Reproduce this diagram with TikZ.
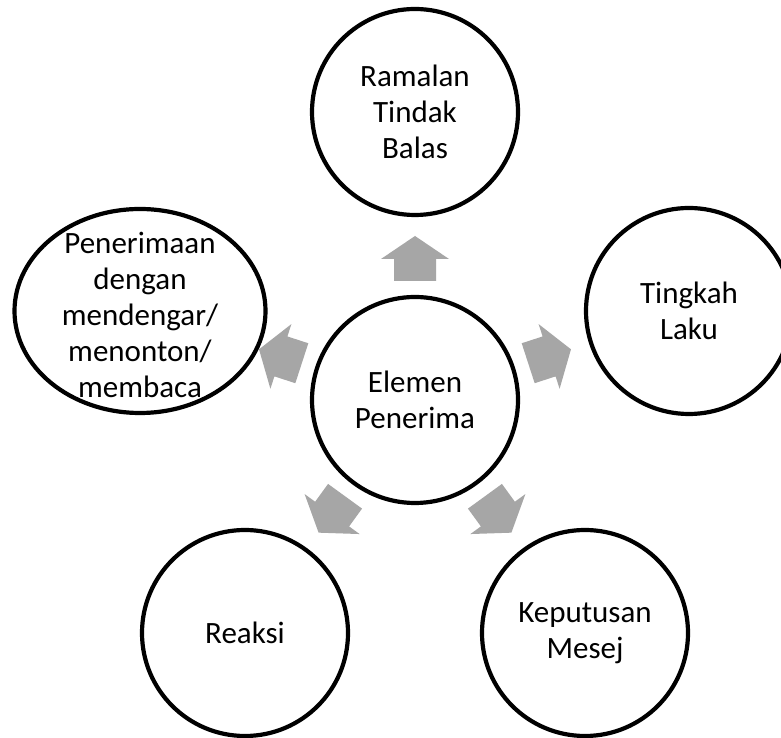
\documentclass[tikz,border=0pt]{standalone}
\usepackage{fontspec}
\setmainfont{Carlito}
\usetikzlibrary{shapes.geometric}
\definecolor{arrowgray}{RGB}{166,166,166}
\tikzset{
  bubble/.style={circle, draw=black, fill=white, line width=4.2pt, minimum size=206pt, inner sep=0pt},
  ovalbox/.style={ellipse, draw=black, fill=white, line width=4.2pt, minimum width=251pt, minimum height=204pt, inner sep=0pt},
  txt/.style={align=center, inner sep=0pt, font=\fontsize{31}{36}\selectfont},
  blockarrow/.style={fill=arrowgray, draw=none}
}
\begin{document}
\begin{tikzpicture}[x=1pt,y=1pt]
\clip (0,0) rectangle (781,738);
\fill[white] (0,0) rectangle (781,738);
\coordinate (c) at (415,338);
% arrows
\foreach \a in {90,18,162,-54,-126}{
  \begin{scope}[shift={(c)}, rotate=\a]
    \fill[blockarrow] (119,-21) -- (141,-21) -- (141,-34) -- (164,0) -- (141,34) -- (141,21) -- (119,21) -- cycle;
  \end{scope}
}
% center
\node[bubble, txt] (center) at (c) {Elemen\\Penerima};
% outer
\node[bubble, txt] (ramalan) at (415,626) {Ramalan\\Tindak\\Balas};
\node[bubble, txt] (tingkah) at (689,427) {Tingkah\\Laku};
\node[bubble, txt] (keputusan) at (585,105) {Keputusan\\Mesej};
\node[bubble, txt] (reaksi) at (245,105) {Reaksi};
\node[ovalbox] (penerimaan) at (140,427) {};
\node[txt] (penerimaantext) at (140,423) {Penerimaan\\dengan\\mendengar/\\menonton/\\membaca};
\end{tikzpicture}
\end{document}
